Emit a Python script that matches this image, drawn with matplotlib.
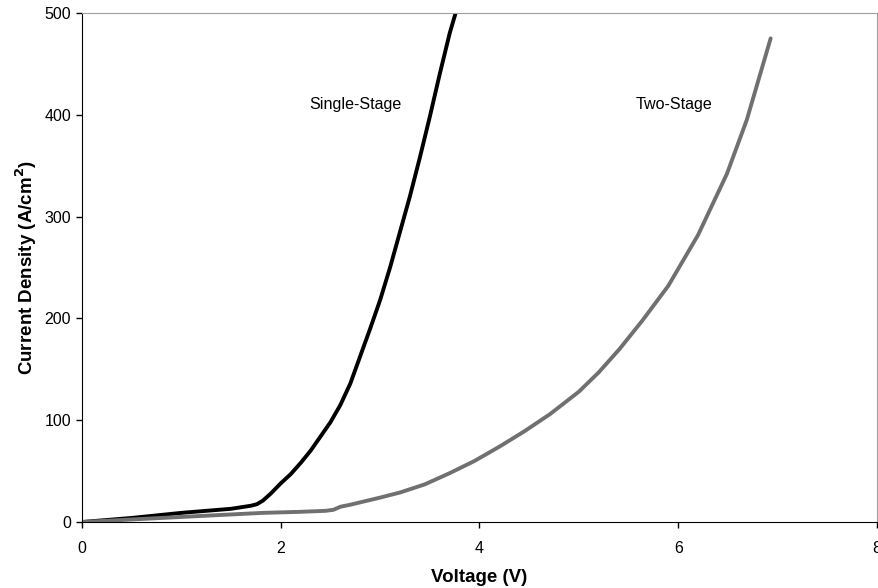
import numpy as np
import matplotlib
matplotlib.use("Agg")
import matplotlib.pyplot as plt

plt.rcParams['font.family'] = ['Liberation Sans', 'DejaVu Sans']

# Single-stage I-V curve
v_single = [0.0, 0.5, 1.0, 1.5, 1.7, 1.76, 1.82, 1.9, 2.0, 2.1, 2.2, 2.3, 2.4,
            2.5, 2.6, 2.7, 2.8, 2.9, 3.0, 3.1, 3.2, 3.3, 3.4, 3.5, 3.6, 3.7, 3.76]
j_single = [0, 4, 9, 13, 16, 17.5, 21, 28, 38, 47, 58, 70, 84,
            98, 115, 136, 163, 190, 218, 250, 285, 320, 358, 398, 440, 480, 500]

# Two-stage I-V curve
v_two = [0.0, 1.0, 1.82, 2.19, 2.45, 2.53, 2.6, 2.7, 3.0, 3.2, 3.45, 3.7, 3.95,
         4.2, 4.45, 4.71, 5.0, 5.2, 5.41, 5.64, 5.9, 6.2, 6.49, 6.69, 6.93]
j_two = [0, 5, 9, 10, 11, 12, 15, 17, 24, 29, 37, 48, 60,
         74, 89, 106, 128, 147, 170, 198, 232, 282, 342, 395, 475]

fig = plt.figure(figsize=(8.79, 5.88), dpi=100)
ax = fig.add_axes([0.0933, 0.1122, 0.9044, 0.8658])

ax.plot(v_single, j_single, color='black', lw=2.8, solid_capstyle='round',
        solid_joinstyle='round')
ax.plot(v_two, j_two, color='#707070', lw=2.8, solid_capstyle='round',
        solid_joinstyle='round')

ax.text(2.75, 410, 'Single-Stage', fontsize=11.6, ha='center', va='center')
ax.text(5.96, 410, 'Two-Stage', fontsize=11.6, ha='center', va='center')

ax.set_xlim(0, 8)
ax.set_ylim(0, 500)
ax.set_xticks([0, 2, 4, 6, 8])
ax.set_yticks([0, 100, 200, 300, 400, 500])
ax.tick_params(direction='out', length=4, width=1, labelsize=11.5, pad=10)
ax.tick_params(axis='y', pad=4)

ax.spines['top'].set_color('#a0a0a0')
ax.spines['right'].set_color('#a0a0a0')

ax.set_xlabel('Voltage (V)', fontsize=13.5, fontweight='bold', labelpad=9)
ax.set_ylabel('Current Density (A/cm$^\\mathbf{2}$)', fontsize=13.5,
              fontweight='bold', labelpad=4)

fig.savefig('out.png', dpi=100)
